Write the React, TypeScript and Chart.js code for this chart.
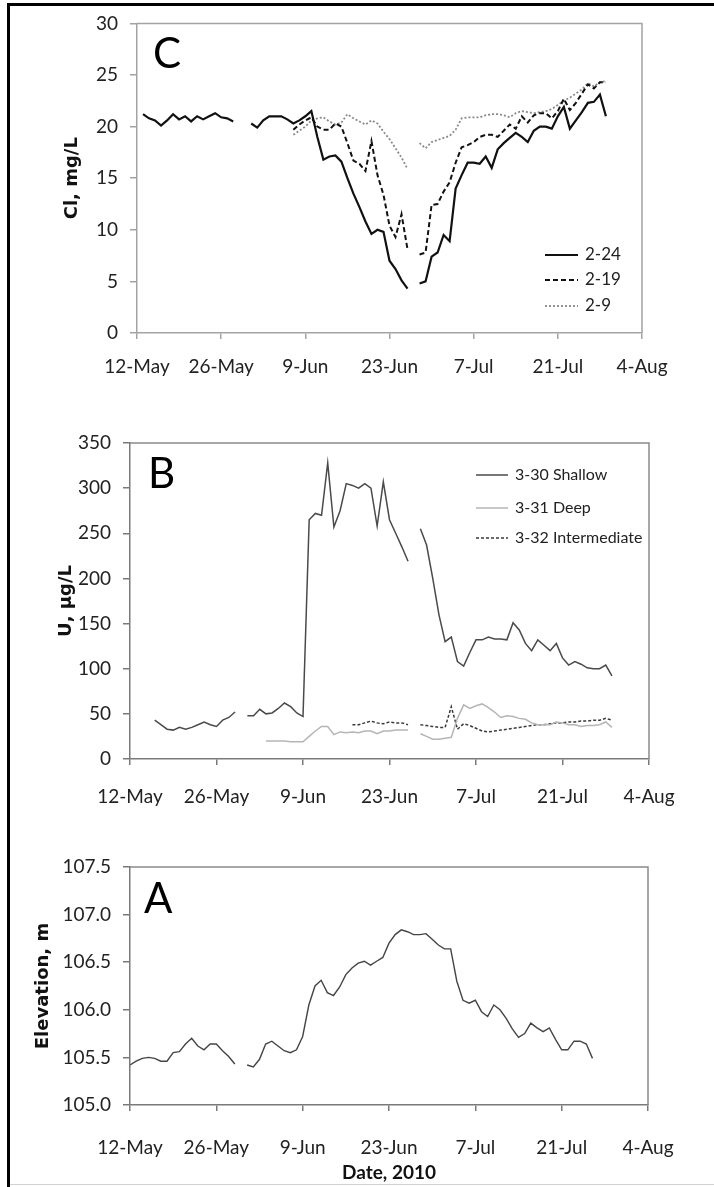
import { useEffect, useRef } from "react";
import { Chart, registerables } from "chart.js";

Chart.register(...registerables);

const W = 714;
const TICK_DAYS = 14;
const dateTicks = ["12-May", "26-May", "9-Jun", "23-Jun", "7-Jul", "21-Jul", "4-Aug"];

// Panel C: chloride, mg/L. Index 0 is the start day (days after 12-May); null = no sample.
const cl224Start = 1;
const cl224 = [
  21.2, 20.8, 20.6, 20.1, 20.6, 21.2, 20.7, 21.0, 20.5, 21.0, 20.7, 21.0, 21.3, 20.9, 20.8, 20.5,
  null, null,
  20.3, 19.9, 20.6, 21.0, 21.0, 21.0, 20.7, 20.3, 20.6, 21.0, 21.5, 19.0, 16.8, 17.1, 17.2, 16.6,
  15.0, 13.5, 12.2, 10.8, 9.6, 10.0, 9.8, 7.0, 6.2, 5.1, 4.3,
  null,
  4.8, 5.0, 7.4, 7.8, 9.5, 8.9, 14.0, 15.3, 16.5, 16.5, 16.4, 17.1, 16.0, 17.8, 18.4, 18.9,
  19.4, 19.0, 18.5, 19.6, 20.0, 20.0, 19.8, 21.0, 21.9, 19.8, 20.6, 21.4, 22.3, 22.4, 23.1, 21.0,
];
const cl219Start = 26;
const cl219 = [
  19.7, 20.2, 20.6, 20.9, 20.0, 19.7, 19.7, 20.3, 20.0, 18.4, 16.7, 16.4, 15.7, 18.6, 15.3, 13.4,
  10.4, 9.3, 11.5, 8.1,
  null,
  7.6, 7.8, 12.4, 12.5, 13.7, 14.6, 16.5, 18.0, 18.2, 18.5, 19.0, 19.2, 19.2, 19.0, 19.6, 20.2,
  19.8, 21.0, 20.4, 21.1, 21.3, 21.3, 20.8, 21.5, 22.7, 21.6, 22.3, 23.2, 24.1, 23.7, 24.3, 24.3,
];
const cl29Start = 26;
const cl29 = [
  19.2, 19.6, 20.0, 20.6, 20.8, 20.9, 20.5, 20.2, 20.4, 21.2, 20.8, 20.5, 20.2, 20.6, 20.3, 19.5,
  18.8, 17.9, 17.0, 15.9,
  null,
  18.4, 17.9, 18.5, 18.7, 18.9, 19.1, 19.7, 20.8, 20.9, 20.9, 20.9, 21.1, 21.2, 21.2, 21.1, 20.9,
  21.3, 21.5, 21.4, 21.3, 21.4, 21.5, 21.7, 22.1, 22.5, 22.8, 23.2, 23.6, 24.2, 23.9, 24.3, 24.4,
];

// Panel B: uranium, µg/L
const u330Start = 4;
const u330 = [
  43, 38, 33, 32, 35, 33, 35, 38, 41, 38, 36, 43, 46, 52,
  null,
  48, 48, 55, 50, 51, 56, 62, 58, 51, 47, 265, 272, 270, 328, 257, 275, 305, 303, 300, 305, 300,
  258, 307, 265, 250, 235, 219,
  null,
  255, 237, 200, 160, 130, 135, 108, 103, 118, 132, 132, 135, 133, 133, 132, 151, 143, 128, 120,
  132, 126, 120, 128, 112, 104, 108, 105, 101, 100, 100, 104, 92,
];
const u331Start = 22;
const u331 = [
  20, 20, 20, 20, 19, 19, 19, 25, 31, 36, 36, 27, 30, 29, 30, 29, 31, 31, 28, 31, 31, 32, 32, 32,
  null,
  28, 25, 22, 22, 23, 24, 45, 60, 56, 59, 61, 57, 52, 46, 48, 47, 45, 44, 40, 38, 38, 38, 41, 40,
  38, 38, 36, 37, 37, 38, 41, 35,
];
const u332Start = 36;
const u332 = [
  38, 38, 40, 42, 40, 39, 41, 40, 40, 38,
  null,
  38, 37, 36, 35, 35, 58, 33, 39, 37, 34, 31, 30, 31, 32, 33, 34, 35, 36, 37, 38, 38, 39, 40, 40,
  41, 41, 42, 42, 43, 43, 45, 43,
];

// Panel A: water-table elevation, m
const elevStart = 0;
const elev = [
  105.42, 105.46, 105.49, 105.5, 105.49, 105.46, 105.46, 105.55, 105.56, 105.64, 105.7, 105.62,
  105.58, 105.64, 105.64, 105.57, 105.51, 105.43,
  null,
  105.42, 105.4, 105.48, 105.64, 105.67, 105.62, 105.57, 105.55, 105.58, 105.72, 106.05, 106.25,
  106.31, 106.18, 106.15, 106.24, 106.37, 106.44, 106.49, 106.51, 106.47, 106.51, 106.55, 106.7,
  106.79, 106.84, 106.82, 106.79, 106.79, 106.8, 106.74, 106.68, 106.64, 106.64, 106.3, 106.1,
  106.07, 106.1, 105.98, 105.93, 106.05, 106.0, 105.91, 105.8, 105.71, 105.75, 105.86, 105.81,
  105.77, 105.81, 105.69, 105.58, 105.58, 105.67, 105.67, 105.64, 105.49,
];

const toPoints = (start: number, vals: (number | null)[]) =>
  vals.map((v, i) => ({ x: start + i, y: v }));

const TICK_FONT = { family: "Lato", size: 19 };
const YTITLE_SIZE = 18;
const YTITLE_FONT = { family: "'DejaVu Sans'", size: YTITLE_SIZE, weight: "bold" as const };

type LegendSpec = { x1: number; x2: number; textX: number; ys: number[]; font: string };
type Panel = {
  height: number;
  area: { left: number; right: number; top: number; bottom: number };
  yMin: number;
  yMax: number;
  yStep: number;
  yFmt?: (v: number) => string;
  yTitle: string;
  yTitleCenter: number;
  xTickGap: number;
  xTitle?: string;
  xTitlePad?: number;
  axisColor: string;
  boxColor: string;
  letter: string;
  letterX: number;
  letterY: number;
  legend: LegendSpec | null;
  datasets: any[];
};

// Draws the top/right frame of the plot box, the panel letter and the in-plot legend.
const decorPlugin = {
  id: "decor",
  afterDraw(chart: any, _args: any, opts: any) {
    const { ctx, chartArea: a } = chart;
    ctx.save();
    ctx.strokeStyle = opts.boxColor;
    ctx.lineWidth = 1.5;
    ctx.beginPath();
    ctx.moveTo(a.left, a.top);
    ctx.lineTo(a.right, a.top);
    ctx.lineTo(a.right, a.bottom);
    ctx.stroke();

    ctx.fillStyle = "#000";
    ctx.font = "42px Lato";
    ctx.textBaseline = "alphabetic";
    ctx.textAlign = "left";
    ctx.fillText(opts.letter, opts.letterX, opts.letterY);

    const lg: LegendSpec | null = opts.legend;
    if (lg) {
      chart.data.datasets.forEach((ds: any, i: number) => {
        const y = lg.ys[i];
        ctx.strokeStyle = ds.borderColor;
        ctx.lineWidth = ds.borderWidth;
        ctx.setLineDash(ds.borderDash || []);
        ctx.beginPath();
        ctx.moveTo(lg.x1, y);
        ctx.lineTo(lg.x2, y);
        ctx.stroke();
        ctx.setLineDash([]);
        ctx.fillStyle = "#222";
        ctx.font = lg.font;
        ctx.textBaseline = "middle";
        ctx.fillText(ds.label, lg.textX, y);
      });
    }
    ctx.restore();
  },
};

function makeConfig(p: Panel): any {
  const tickLen = 7;
  return {
    type: "line",
    data: { datasets: p.datasets },
    plugins: [decorPlugin],
    options: {
      responsive: false,
      animation: false,
      devicePixelRatio: 1,
      spanGaps: false,
      layout: { padding: { left: 0, top: p.area.top, right: W - p.area.right, bottom: 0 } },
      elements: { point: { radius: 0 }, line: { tension: 0 } },
      plugins: {
        legend: { display: false },
        tooltip: { enabled: false },
        decor: {
          boxColor: p.boxColor,
          letter: p.letter,
          letterX: p.letterX,
          letterY: p.letterY,
          legend: p.legend,
        },
      },
      scales: {
        x: {
          type: "linear",
          min: 0,
          max: 84,
          afterFit: (s: any) => {
            s.height = p.height - p.area.bottom;
          },
          ticks: {
            stepSize: TICK_DAYS,
            autoSkip: false,
            maxRotation: 0,
            padding: p.xTickGap - tickLen,
            color: "#222",
            font: TICK_FONT,
            callback: (v: number) => dateTicks[Math.round(v / TICK_DAYS)] ?? "",
          },
          grid: {
            display: true,
            drawOnChartArea: false,
            drawTicks: true,
            tickLength: 6,
            color: p.axisColor,
            lineWidth: 1.5,
          },
          border: { display: true, color: p.axisColor, width: 1.5 },
          title: p.xTitle
            ? {
                display: true,
                text: p.xTitle,
                color: "#111",
                font: { family: "Lato", size: 19, weight: "bold" },
                padding: { top: 0, bottom: p.xTitlePad ?? 0 },
              }
            : { display: false },
        },
        y: {
          type: "linear",
          min: p.yMin,
          max: p.yMax,
          afterFit: (s: any) => {
            s.width = p.area.left;
          },
          ticks: {
            stepSize: p.yStep,
            padding: 12,
            color: "#222",
            font: TICK_FONT,
            callback: (v: number) => (p.yFmt ? p.yFmt(v) : String(v)),
          },
          grid: {
            display: true,
            drawOnChartArea: false,
            drawTicks: true,
            tickLength: tickLen,
            color: p.axisColor,
            lineWidth: 1.5,
          },
          border: { display: true, color: p.axisColor, width: 1.5 },
          title: {
            display: true,
            text: p.yTitle,
            color: "#111",
            font: YTITLE_FONT,
            padding: { top: p.yTitleCenter - YTITLE_SIZE * 0.6, bottom: 0 },
          },
        },
      },
    },
  };
}

const panelC: Panel = {
  height: 400,
  area: { left: 137, right: 642, top: 17, bottom: 333 },
  yMin: 0,
  yMax: 30,
  yStep: 5,
  yTitle: "Cl, mg/L",
  yTitleCenter: 72,
  xTickGap: 23,
  axisColor: "#a3a3a3",
  boxColor: "#a3a3a3",
  letter: "C",
  letterX: 153,
  letterY: 68,
  legend: { x1: 545, x2: 578, textX: 585, ys: [255, 280, 306], font: "17px Lato" },
  datasets: [
    { label: "2-24", data: toPoints(cl224Start, cl224), borderColor: "#111", borderWidth: 2.2 },
    { label: "2-19", data: toPoints(cl219Start, cl219), borderColor: "#111", borderWidth: 2, borderDash: [5, 3] },
    { label: "2-9", data: toPoints(cl29Start, cl29), borderColor: "#8a8a8a", borderWidth: 1.8, borderDash: [2, 2] },
  ],
};

const panelB: Panel = {
  height: 420,
  area: { left: 130, right: 649, top: 43, bottom: 359 },
  yMin: 0,
  yMax: 350,
  yStep: 50,
  yTitle: "U, µg/L",
  yTitleCenter: 66,
  xTickGap: 27,
  axisColor: "#7a7a7a",
  boxColor: "#8a8a8a",
  letter: "B",
  letterX: 148,
  letterY: 88,
  legend: { x1: 476, x2: 508, textX: 515, ys: [75, 108, 138], font: "16px Lato" },
  datasets: [
    { label: "3-30 Shallow", data: toPoints(u330Start, u330), borderColor: "#4a4a4a", borderWidth: 1.5 },
    { label: "3-31 Deep", data: toPoints(u331Start, u331), borderColor: "#b5b5b5", borderWidth: 1.5 },
    { label: "3-32 Intermediate", data: toPoints(u332Start, u332), borderColor: "#3a3a3a", borderWidth: 1.5, borderDash: [3, 2] },
  ],
};

const panelA: Panel = {
  height: 367,
  area: { left: 130, right: 648, top: 47, bottom: 285 },
  yMin: 105,
  yMax: 107.5,
  yStep: 0.5,
  yFmt: (v) => Number(v).toFixed(1),
  yTitle: "Elevation, m",
  yTitleCenter: 43,
  xTickGap: 32,
  xTitle: "Date, 2010",
  xTitlePad: 3,
  axisColor: "#7a7a7a",
  boxColor: "#8a8a8a",
  letter: "A",
  letterX: 144,
  letterY: 93,
  legend: null,
  datasets: [
    { label: "Elevation", data: toPoints(elevStart, elev), borderColor: "#444", borderWidth: 1.4 },
  ],
};

const panels: { top: number; spec: Panel }[] = [
  { top: 0, spec: panelC },
  { top: 400, spec: panelB },
  { top: 820, spec: panelA },
];

export default function App() {
  const refs = [useRef<HTMLCanvasElement>(null), useRef<HTMLCanvasElement>(null), useRef<HTMLCanvasElement>(null)];

  useEffect(() => {
    let cancelled = false;
    const charts: Chart[] = [];
    const fontsReady = Promise.all([
      document.fonts.load("19px Lato"),
      document.fonts.load("bold 19px Lato"),
      document.fonts.load("bold 18px 'DejaVu Sans'"),
    ]).catch(() => null);
    fontsReady.then(() => {
      if (cancelled) return;
      panels.forEach((p, i) => {
        const c = refs[i].current;
        if (c) charts.push(new Chart(c, makeConfig(p.spec)));
      });
    });
    return () => {
      cancelled = true;
      charts.forEach((c) => c.destroy());
    };
  }, []);

  return (
    <div
      style={{
        position: "absolute",
        left: 0,
        top: 0,
        width: W,
        height: 1187,
        background: "#fff",
        overflow: "hidden",
      }}
    >
      <div
        style={{
          position: "absolute",
          left: 7,
          top: 3,
          width: W,
          height: 1200,
          borderLeft: "3px solid #000",
          borderTop: "3px solid #000",
        }}
      />
      <div style={{ position: "absolute", left: 10, right: 0, top: 1184, height: 1, background: "#d2d2d2" }} />
      {panels.map((p, i) => (
        <canvas
          key={i}
          ref={refs[i]}
          width={W}
          height={p.spec.height}
          style={{ position: "absolute", left: 0, top: p.top, width: W, height: p.spec.height }}
        />
      ))}
    </div>
  );
}
